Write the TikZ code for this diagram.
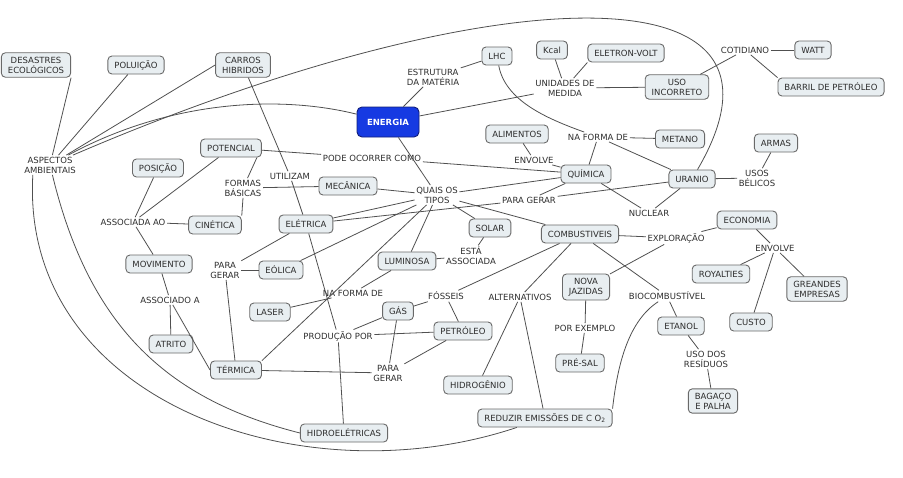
\documentclass[tikz,border=0pt]{standalone}
\usepackage{fontspec}
\setmainfont{DejaVu Sans}

\definecolor{BoxFill}{RGB}{232,238,241}
\definecolor{BoxLine}{RGB}{105,105,105}
\definecolor{LineGray}{RGB}{80,80,80}
\definecolor{TextGray}{RGB}{45,45,45}
\definecolor{EnergyFill}{RGB}{22,58,226}
\definecolor{EnergyLine}{RGB}{18,30,120}
\newcommand{\mapfont}{\fontsize{8.5}{10}\selectfont}

\begin{document}
\begin{tikzpicture}[x=1pt, y=-1pt]
                \useasboundingbox (0,0) rectangle (903,477);

                % 1. Styles
                \tikzstyle{Concept} = [draw=BoxLine, fill=BoxFill, line width=0.9pt, rounded corners=4pt,
                                       inner xsep=6.5pt, inner ysep=4pt, minimum height=18pt,
                                       align=center, font=\mapfont, text=TextGray]
                \tikzstyle{Phrase}  = [inner sep=1.5pt, align=center, font=\mapfont, text=TextGray]
                \tikzstyle{Link}    = [draw=LineGray, line width=0.8pt]

                % 2. Concept boxes
                % Central concept
                \node[Concept, fill=EnergyFill, draw=EnergyLine, text=white, font=\mapfont\bfseries,
                      minimum width=62pt, minimum height=30pt, rounded corners=5pt] (Energia) at (388,122) {ENERGIA};

                % Top row
                \node[Concept] (Desastres)   at (36,65)   {DESASTRES\\ECOLÓGICOS};
                \node[Concept] (Poluicao)    at (136,65)  {POLUIÇÃO};
                \node[Concept] (Carros)      at (243,65)  {CARROS\\HIBRIDOS};
                \node[Concept] (Lhc)         at (497,56)  {LHC};
                \node[Concept] (Kcal)        at (552,50)  {Kcal};
                \node[Concept] (EletronVolt) at (626,53)  {ELETRON-VOLT};
                \node[Concept] (UsoIncorreto) at (677,87) {USO\\INCORRETO};
                \node[Concept] (Watt)        at (813,50)  {WATT};
                \node[Concept] (Barril)      at (831,87)  {BARRIL DE PETRÓLEO};

                % Left side
                \node[Concept] (Potencial)   at (231,148) {POTENCIAL};
                \node[Concept] (Posicao)     at (158,168) {POSIÇÃO};
                \node[Concept] (Mecanica)    at (348,186) {MECÂNICA};
                \node[Concept] (Cinetica)    at (215,225) {CINÉTICA};
                \node[Concept] (Eletrica)    at (306,224) {ELÉTRICA};
                \node[Concept] (Movimento)   at (159,264) {MOVIMENTO};
                \node[Concept] (Eolica)      at (281,270) {EÓLICA};
                \node[Concept] (Laser)       at (270,312) {LASER};
                \node[Concept] (Atrito)      at (171,344) {ATRITO};
                \node[Concept] (Termica)     at (236,370) {TÉRMICA};
                \node[Concept] (Hidroeletricas) at (344,433) {HIDROELÉTRICAS};

                % Middle
                \node[Concept] (Alimentos)   at (517,134) {ALIMENTOS};
                \node[Concept] (Quimica)     at (586,174) {QUÍMICA};
                \node[Concept] (Solar)       at (490,228) {SOLAR};
                \node[Concept] (Luminosa)    at (407,261) {LUMINOSA};
                \node[Concept] (Combustiveis) at (580,234) {COMBUSTIVEIS};
                \node[Concept] (Gas)         at (398,311) {GÁS};
                \node[Concept] (Petroleo)    at (463,331) {PETRÓLEO};
                \node[Concept] (NovaJazidas) at (586,287) {NOVA\\JAZIDAS};
                \node[Concept] (PreSal)      at (580,363) {PRÉ-SAL};
                \node[Concept] (Hidrogenio)  at (478,385) {HIDROGÊNIO};
                \node[Concept] (Reduzir)     at (545,418) {REDUZIR EMISSÕES DE C O\textsubscript{2}};

                % Right side
                \node[Concept] (Metano)      at (680,139) {METANO};
                \node[Concept] (Armas)       at (776,143) {ARMAS};
                \node[Concept] (Uranio)      at (692,179) {URANIO};
                \node[Concept] (Economia)    at (747,220) {ECONOMIA};
                \node[Concept] (Royalties)   at (721,274) {ROYALTIES};
                \node[Concept] (GrandesEmp)  at (817,289) {GREANDES\\EMPRESAS};
                \node[Concept] (Custo)       at (751,322) {CUSTO};
                \node[Concept] (Etanol)      at (681,326) {ETANOL};
                \node[Concept] (Bagaco)      at (713,401) {BAGAÇO\\E PALHA};

                % 3. Linking phrases
                \node[Phrase] (Aspectos)     at (50,165)  {ASPECTOS\\AMBIENTAIS};
                \node[Phrase] (Estrutura)    at (433,77)  {ESTRUTURA\\DA MATÉRIA};
                \node[Phrase] (Unidades)     at (565,88)  {UNIDADES DE\\MEDIDA};
                \node[Phrase] (Cotidiano)    at (745,50)  {COTIDIANO};
                \node[Phrase] (NaFormaA)     at (598,137) {NA FORMA DE};
                \node[Phrase] (EnvolveA)     at (534,160) {ENVOLVE};
                \node[Phrase] (PodeOcorrer)  at (372,158) {PODE OCORRER COMO};
                \node[Phrase] (FormasBasicas) at (243,188) {FORMAS\\BÁSICAS};
                \node[Phrase] (Utilizam)     at (290,176) {UTILIZAM};
                \node[Phrase] (QuaisTipos)   at (437,195) {QUAIS OS\\TIPOS};
                \node[Phrase] (ParaGerarB)   at (529,200) {PARA GERAR};
                \node[Phrase] (Nuclear)      at (649,213) {NUCLEAR};
                \node[Phrase] (UsosBelicos)  at (757,178) {USOS\\BÉLICOS};
                \node[Phrase] (AssociadaAo)  at (133,222) {ASSOCIADA AO};
                \node[Phrase] (ParaGerarA)   at (225,270) {PARA\\GERAR};
                \node[Phrase] (AssociadoA)   at (170,300) {ASSOCIADO A};
                \node[Phrase] (EstaAssoc)    at (471,256) {ESTÁ\\ASSOCIADA};
                \node[Phrase] (NaFormaB)     at (353,293) {NA FORMA DE};
                \node[Phrase] (Fosseis)      at (446,296) {FÓSSEIS};
                \node[Phrase] (Alternativos) at (520,297) {ALTERNATIVOS};
                \node[Phrase] (ProducaoPor)  at (338,336) {PRODUÇÃO POR};
                \node[Phrase] (ParaGerarC)   at (388,373) {PARA\\GERAR};
                \node[Phrase] (PorExemplo)   at (585,328) {POR EXEMPLO};
                \node[Phrase] (Exploracao)   at (676,238) {EXPLORAÇÃO};
                \node[Phrase] (Biocomb)      at (667,296) {BIOCOMBUSTÍVEL};
                \node[Phrase] (EnvolveB)     at (775,248) {ENVOLVE};
                \node[Phrase] (UsoResiduos)  at (706,359) {USO DOS\\RESÍDUOS};

                % 4. Connectors
                % Environmental aspects
                \draw[Link] (Desastres.south east) -- (Aspectos);
                \draw[Link] (Poluicao) -- (Aspectos);
                \draw[Link] (Carros.west) -- (Aspectos);
                \draw[Link] (Aspectos) .. controls (170,100) and (280,95) .. (Energia);        % to the centre
                \draw[Link] (Aspectos) .. controls (480,-20) and (820,-40) .. (Uranio);        % long arc over the top
                \draw[Link] (Aspectos.210) .. controls (20,400) and (300,500) .. (Reduzir);    % outer arc below
                \draw[Link] (Aspectos) .. controls (90,330) and (170,400) .. (Hidroeletricas.west);

                % Energy, structure and units
                \draw[Link] (Energia) -- (Estrutura);
                \draw[Link] (Estrutura) -- (Lhc);
                \draw[Link] (Energia) -- (Unidades);
                \draw[Link] (Kcal) -- (Unidades);
                \draw[Link] (EletronVolt.south west) -- (Unidades);
                \draw[Link] (Unidades) -- (UsoIncorreto);
                \draw[Link] (UsoIncorreto) -- (Cotidiano);
                \draw[Link] (Cotidiano) -- (Watt);
                \draw[Link] (Cotidiano) -- (Barril.north west);
                \draw[Link] (Energia) -- (QuaisTipos);

                % Chemical and nuclear
                \draw[Link] (Lhc) .. controls (505,100) and (545,118) .. (NaFormaA);
                \draw[Link] (NaFormaA) -- (Metano);
                \draw[Link] (NaFormaA) -- (Uranio);
                \draw[Link] (Quimica) -- (NaFormaA);
                \draw[Link] (Alimentos) -- (EnvolveA);
                \draw[Link] (EnvolveA) -- (Quimica);
                \draw[Link] (Potencial) -- (PodeOcorrer);
                \draw[Link] (PodeOcorrer) -- (Quimica);
                \draw[Link] (Quimica) -- (QuaisTipos);
                \draw[Link] (Quimica) -- (ParaGerarB);
                \draw[Link] (Quimica) -- (Nuclear);
                \draw[Link] (Uranio) -- (Nuclear);
                \draw[Link] (Uranio) -- (ParaGerarB);
                \draw[Link] (ParaGerarB) -- (Eletrica);
                \draw[Link] (Uranio) -- (UsosBelicos);
                \draw[Link] (UsosBelicos) -- (Armas);

                % Mechanical energy
                \draw[Link] (Potencial.-20) -- (FormasBasicas);
                \draw[Link] (FormasBasicas) -- (Mecanica);
                \draw[Link] (FormasBasicas.south) -- (Cinetica.north east);
                \draw[Link] (Potencial) -- (AssociadaAo);
                \draw[Link] (Posicao) -- (AssociadaAo);
                \draw[Link] (Cinetica) -- (AssociadaAo);
                \draw[Link] (AssociadaAo) -- (Movimento);
                \draw[Link] (Movimento) -- (AssociadoA);
                \draw[Link] (AssociadoA) -- (Atrito);
                \draw[Link] (AssociadoA) -- (Termica.west);

                % Types of energy
                \draw[Link] (Mecanica) -- (QuaisTipos);
                \draw[Link] (Eletrica) -- (QuaisTipos);
                \draw[Link] (Eolica) -- (QuaisTipos);
                \draw[Link] (Termica.north east) -- (QuaisTipos);
                \draw[Link] (Luminosa) -- (QuaisTipos);
                \draw[Link] (Solar) -- (QuaisTipos);
                \draw[Link] (Combustiveis) -- (QuaisTipos);

                % Electric and thermal
                \draw[Link] (Carros) -- (Utilizam);
                \draw[Link] (Utilizam) -- (Eletrica);
                \draw[Link] (Eletrica) -- (ParaGerarA);
                \draw[Link] (Eolica) -- (ParaGerarA);
                \draw[Link] (ParaGerarA) -- (Termica);
                \draw[Link] (Eletrica) -- (ProducaoPor);
                \draw[Link] (ProducaoPor) -- (Hidroeletricas);
                \draw[Link] (ProducaoPor) -- (Gas);
                \draw[Link] (ProducaoPor) -- (Petroleo);
                \draw[Link] (Luminosa) -- (NaFormaB);
                \draw[Link] (NaFormaB) -- (Laser);
                \draw[Link] (Luminosa) -- (EstaAssoc);
                \draw[Link] (EstaAssoc) -- (Solar);

                % Fuels
                \draw[Link] (Combustiveis) -- (Fosseis);
                \draw[Link] (Fosseis) -- (Gas);
                \draw[Link] (Fosseis) -- (Petroleo);
                \draw[Link] (Gas) -- (ParaGerarC);
                \draw[Link] (Petroleo) -- (ParaGerarC);
                \draw[Link] (Termica) -- (ParaGerarC);
                \draw[Link] (Combustiveis) -- (Alternativos);
                \draw[Link] (Alternativos) -- (Hidrogenio);
                \draw[Link] (Alternativos) -- (Reduzir);
                \draw[Link] (Combustiveis) -- (Biocomb);
                \draw[Link] (Biocomb) -- (Etanol);
                \draw[Link] (Biocomb) .. controls (630,320) and (618,360) .. (Reduzir.north east);
                \draw[Link] (Etanol) -- (UsoResiduos);
                \draw[Link] (UsoResiduos) -- (Bagaco);

                % Exploration and economy
                \draw[Link] (Combustiveis) -- (Exploracao);
                \draw[Link] (Exploracao) -- (Economia);
                \draw[Link] (Exploracao) -- (NovaJazidas);
                \draw[Link] (NovaJazidas) -- (PorExemplo);
                \draw[Link] (PorExemplo) -- (PreSal);
                \draw[Link] (Economia) -- (EnvolveB);
                \draw[Link] (EnvolveB) -- (Royalties);
                \draw[Link] (EnvolveB) -- (GrandesEmp);
                \draw[Link] (EnvolveB) -- (Custo);

\end{tikzpicture}
\end{document}
